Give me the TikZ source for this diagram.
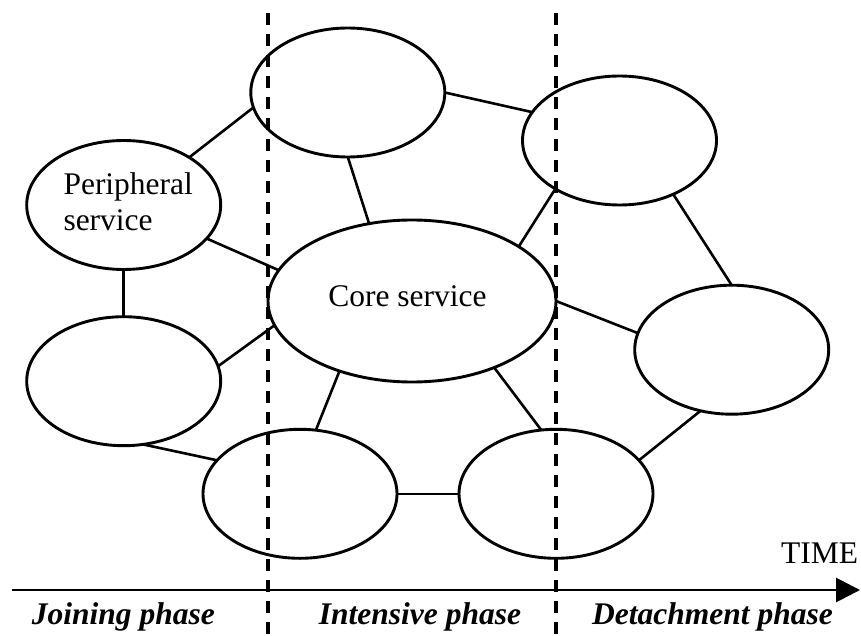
\documentclass[tikz,border=0pt]{standalone}
\usepackage{fontspec}
\setmainfont{Liberation Serif}
\usetikzlibrary{shapes.geometric,arrows.meta}
\begin{document}
\begin{tikzpicture}[x=1pt,y=-1pt,
  oval/.style={draw,ellipse,line width=2.9pt,minimum width=194pt,minimum height=129pt,inner sep=0pt,outer sep=0pt},
  link/.style={line width=2.6pt},
  phaseline/.style={line width=3.8pt,dash pattern=on 12pt off 9pt},
  txt/.style={font=\fontsize{31.5}{36}\selectfont,inner sep=0pt},
  phase/.style={font=\fontsize{31.5}{36}\selectfont\bfseries\itshape,inner sep=0pt,anchor=base}]
\useasboundingbox (0,0) rectangle (861,636);

% ellipses
\node[oval] (A) at (347.8,92.5) {};
\node[oval] (P) at (123.7,205) {};
\node[oval] (B) at (619.5,140.5) {};
\node[oval,minimum width=288pt,minimum height=162pt] (C) at (412,301) {};
\node[oval] (R) at (731.7,349.7) {};
\node[oval] (L) at (123.7,381.2) {};
\node[oval] (D) at (300,493.8) {};
\node[oval] (E) at (556,493.8) {};

% texts
\node[txt,anchor=base west] (pt1) at (63.3,195) {Peripheral};
\node[txt,anchor=base west] (pt2) at (63.3,231) {service};
\node[txt,anchor=base] (ct) at (407.5,306.7) {Core service};

% connectors
\draw[link] (P.36.5) -- (A.189.3);
\draw[link] (P.338.1) -- (C.167.9);
\draw[link] (P.south) -- (L.north);
\draw[link] (A.south) -- (C.119.6);
\draw[link] (A.east) -- (B.162.1);
\draw[link] (B.217.1) -- (C.27.9);
\draw[link] (B.315) -- (R.north);
\draw[link] (C.east) -- (R.170.2);
\draw[link] (L.9.5) -- (C.190.9);
\draw[link] (C.224.8) -- (D.76.8);
\draw[link] (L.287.9) -- (D.158.5);
\draw[link] (C.321) -- (E.103.9);
\draw[link] (D.east) -- (E.west);
\draw[link] (E.22.7) -- (R.243.9);

% phase separators
\coordinate (d1t) at (267.7,13);
\coordinate (d1b) at (267.7,636);
\coordinate (d2t) at (556,13);
\coordinate (d2b) at (556,636);
\draw[phaseline] (d1t) -- (d1b);
\draw[phaseline] (d2t) -- (d2b);

% time axis
\coordinate (ax0) at (12,590);
\coordinate (ax1) at (860,590);
\draw[line width=2.9pt,-{Triangle[length=24pt,width=24pt]}] (ax0) -- (ax1);
\node[txt,anchor=base east] (time) at (858.3,563.3) {TIME};

% phase labels
\node[phase] (j) at (123.3,624) {Joining phase};
\node[phase] (i) at (420,624) {Intensive phase};
\node[phase] (dp) at (712.5,624) {Detachment phase};
\end{tikzpicture}
\end{document}
